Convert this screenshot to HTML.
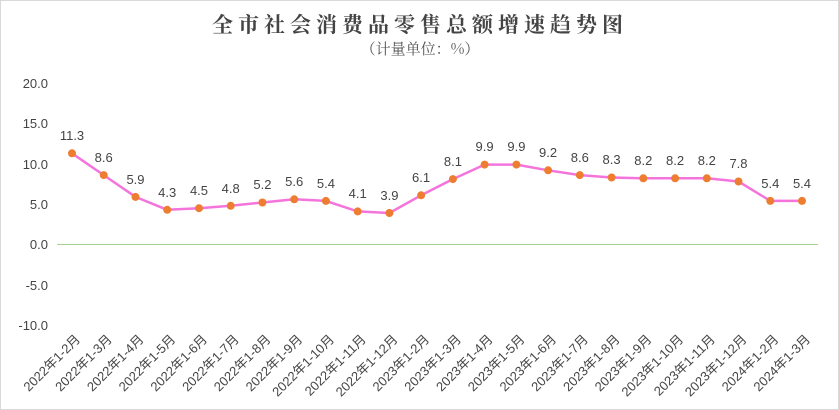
<!DOCTYPE html>
<html><head><meta charset="utf-8"><style>
body{margin:0;background:#fff}
svg{display:block}
text{font-family:"Liberation Sans","Noto Sans CJK SC",sans-serif;fill:#444}
</style></head><body>
<svg width="839" height="410" viewBox="0 0 839 410" xmlns="http://www.w3.org/2000/svg">
<rect x="0.5" y="0.5" width="838" height="409" fill="#fff" stroke="#d9d9d9"/>
<text x="420" y="32" text-anchor="middle" style="font-family:'Noto Serif CJK SC','Noto Sans CJK SC',serif;font-weight:bold;font-size:21px;letter-spacing:5px;fill:#444">全市社会消费品零售总额增速趋势图</text>
<text x="420" y="54" text-anchor="middle" style="font-family:'Noto Serif CJK SC','Noto Sans CJK SC',serif;font-size:15px;fill:#555">（计量单位：%）</text>
<g font-size="13" text-anchor="end">
<text x="48" y="88">20.0</text><text x="48" y="128">15.0</text><text x="48" y="169">10.0</text><text x="48" y="209">5.0</text><text x="48" y="249">0.0</text><text x="48" y="290">-5.0</text><text x="48" y="330">-10.0</text>
</g>
<line x1="57" y1="244.5" x2="818" y2="244.5" stroke="#a9d18e" stroke-width="1"/>
<polyline fill="none" stroke="#f474dc" stroke-width="2.5" stroke-linejoin="round" points="72,153.3 103.7,175.1 135.5,196.9 167.2,209.8 199,208.2 230.7,205.8 262.4,202.5 294.2,199.3 325.9,200.9 357.7,211.4 389.4,213 421.1,195.3 452.9,179.1 484.6,164.6 516.4,164.6 548.1,170.3 579.8,175.1 611.6,177.5 643.3,178.3 675.1,178.3 706.8,178.3 738.5,181.5 770.3,200.9 802,200.9"/>
<g fill="#ed7d31">
<circle cx="72" cy="153.3" r="4"/><circle cx="103.7" cy="175.1" r="4"/><circle cx="135.5" cy="196.9" r="4"/><circle cx="167.2" cy="209.8" r="4"/><circle cx="199" cy="208.2" r="4"/><circle cx="230.7" cy="205.8" r="4"/><circle cx="262.4" cy="202.5" r="4"/><circle cx="294.2" cy="199.3" r="4"/><circle cx="325.9" cy="200.9" r="4"/><circle cx="357.7" cy="211.4" r="4"/><circle cx="389.4" cy="213" r="4"/><circle cx="421.1" cy="195.3" r="4"/><circle cx="452.9" cy="179.1" r="4"/><circle cx="484.6" cy="164.6" r="4"/><circle cx="516.4" cy="164.6" r="4"/><circle cx="548.1" cy="170.3" r="4"/><circle cx="579.8" cy="175.1" r="4"/><circle cx="611.6" cy="177.5" r="4"/><circle cx="643.3" cy="178.3" r="4"/><circle cx="675.1" cy="178.3" r="4"/><circle cx="706.8" cy="178.3" r="4"/><circle cx="738.5" cy="181.5" r="4"/><circle cx="770.3" cy="200.9" r="4"/><circle cx="802" cy="200.9" r="4"/>
</g>
<g font-size="13" text-anchor="middle">
<text x="72" y="140">11.3</text><text x="103.7" y="162">8.6</text><text x="135.5" y="184">5.9</text><text x="167.2" y="197">4.3</text><text x="199" y="195">4.5</text><text x="230.7" y="193">4.8</text><text x="262.4" y="189">5.2</text><text x="294.2" y="186">5.6</text><text x="325.9" y="188">5.4</text><text x="357.7" y="198">4.1</text><text x="389.4" y="200">3.9</text><text x="421.1" y="182">6.1</text><text x="452.9" y="166">8.1</text><text x="484.6" y="151">9.9</text><text x="516.4" y="151">9.9</text><text x="548.1" y="157">9.2</text><text x="579.8" y="162">8.6</text><text x="611.6" y="164">8.3</text><text x="643.3" y="165">8.2</text><text x="675.1" y="165">8.2</text><text x="706.8" y="165">8.2</text><text x="738.5" y="168">7.8</text><text x="770.3" y="188">5.4</text><text x="802" y="188">5.4</text>
</g>
<g font-size="13" text-anchor="end">
<text transform="translate(81,340) rotate(-45)">2022年1-2月</text>
<text transform="translate(112.7,340) rotate(-45)">2022年1-3月</text>
<text transform="translate(144.5,340) rotate(-45)">2022年1-4月</text>
<text transform="translate(176.2,340) rotate(-45)">2022年1-5月</text>
<text transform="translate(208,340) rotate(-45)">2022年1-6月</text>
<text transform="translate(239.7,340) rotate(-45)">2022年1-7月</text>
<text transform="translate(271.4,340) rotate(-45)">2022年1-8月</text>
<text transform="translate(303.2,340) rotate(-45)">2022年1-9月</text>
<text transform="translate(334.9,340) rotate(-45)">2022年1-10月</text>
<text transform="translate(366.7,340) rotate(-45)">2022年1-11月</text>
<text transform="translate(398.4,340) rotate(-45)">2022年1-12月</text>
<text transform="translate(430.1,340) rotate(-45)">2023年1-2月</text>
<text transform="translate(461.9,340) rotate(-45)">2023年1-3月</text>
<text transform="translate(493.6,340) rotate(-45)">2023年1-4月</text>
<text transform="translate(525.4,340) rotate(-45)">2023年1-5月</text>
<text transform="translate(557.1,340) rotate(-45)">2023年1-6月</text>
<text transform="translate(588.8,340) rotate(-45)">2023年1-7月</text>
<text transform="translate(620.6,340) rotate(-45)">2023年1-8月</text>
<text transform="translate(652.3,340) rotate(-45)">2023年1-9月</text>
<text transform="translate(684.1,340) rotate(-45)">2023年1-10月</text>
<text transform="translate(715.8,340) rotate(-45)">2023年1-11月</text>
<text transform="translate(747.5,340) rotate(-45)">2023年1-12月</text>
<text transform="translate(779.3,340) rotate(-45)">2024年1-2月</text>
<text transform="translate(811,340) rotate(-45)">2024年1-3月</text>
</g>
</svg>
</body></html>
